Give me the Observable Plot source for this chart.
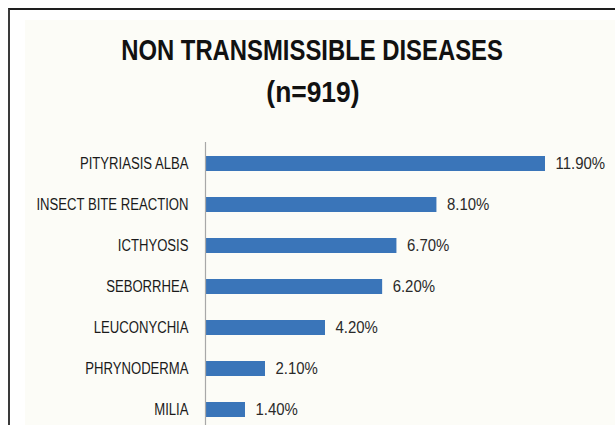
<!DOCTYPE html>
<html>
<head>
<meta charset="utf-8">
<script src="https://cdn.jsdelivr.net/npm/d3@7"></script>
<script src="https://cdn.jsdelivr.net/npm/@observablehq/plot@0.6"></script>
<style>
  html, body { margin: 0; padding: 0; background: #ffffff; }
  #page { position: relative; width: 615px; height: 425px; overflow: hidden; background: #ffffff;
          font-family: "Liberation Sans", Arial, sans-serif; }
  #frame { position: absolute; left: 8px; top: 8px; width: 607px; height: 417px;
           border-top: 2px solid #1e1e1e; border-left: 2px solid #3a3a3a; background: #ffffff; }
  #panel { position: absolute; left: 25px; top: 20px; width: 590px; height: 405px; background: #fcfcf7; }
  #title { position: absolute; left: 10px; width: 605px; top: 29px; text-align: center;
           font-weight: bold; font-size: 30px; line-height: 42px; color: #111; }
  #title span { display: inline-block; transform-origin: center; }
  #t1 { transform: scaleX(0.795); white-space: nowrap; }
  #t2 { transform: scaleX(0.88); }
  #chart { position: absolute; left: 10px; top: 130px; }
  #chart svg { background: none; overflow: visible; }
</style>
</head>
<body>
<div id="page">
  <div id="frame"></div>
  <div id="panel"></div>
  <div id="title"><span id="t1">NON TRANSMISSIBLE DISEASES</span><br><span id="t2">(n=919)</span></div>
  <div id="chart"></div>
</div>
<script>
const categories = ["PITYRIASIS ALBA", "INSECT BITE REACTION", "ICTHYOSIS", "SEBORRHEA", "LEUCONYCHIA", "PHRYNODERMA", "MILIA"];
const values = [11.9, 8.1, 6.7, 6.2, 4.2, 2.1, 1.4];
const valueLabels = ["11.90%", "8.10%", "6.70%", "6.20%", "4.20%", "2.10%", "1.40%"];

const data = categories.map((c, i) => ({name: c, value: values[i], label: valueLabels[i]}));

const chart = Plot.plot({
  width: 605,
  height: 300,
  marginLeft: 195,
  marginRight: 70,
  marginTop: 12,
  marginBottom: 0,
  style: {fontFamily: '"Liberation Sans", Arial, sans-serif', background: "none", overflow: "visible"},
  x: {domain: [0, d3.max(values)], axis: null},
  y: {domain: categories, paddingInner: 0.636, paddingOuter: 0.303, label: null},
  marks: [
    Plot.barX(data, {x: "value", y: "name", fill: "#3a75b9"}),
    Plot.ruleX([0], {stroke: "#a8a8a8", strokeWidth: 1.2}),
    Plot.axisY({tickSize: 0, tickPadding: 17, fontSize: 16, fill: "#1a1a1a", label: null, className: "ylab"}),
    Plot.text(data, {x: "value", y: "name", text: "label", dx: 10, textAnchor: "start", fontSize: 17, fill: "#2a2a2a", className: "vlab"})
  ]
});
document.getElementById("chart").appendChild(chart);

// condense the text horizontally around its anchor to mimic a narrow face
function condense(sel, k) {
  d3.select(chart).selectAll(sel).each(function() {
    const t = d3.select(this);
    const tr = t.attr("transform") || "";
    t.attr("transform", tr + ` scale(${k},1)`);
  });
}
condense("g[aria-label='y-axis tick label'] text", 0.82);
condense("g[aria-label='text'] text", 0.88);
</script>
</body>
</html>
